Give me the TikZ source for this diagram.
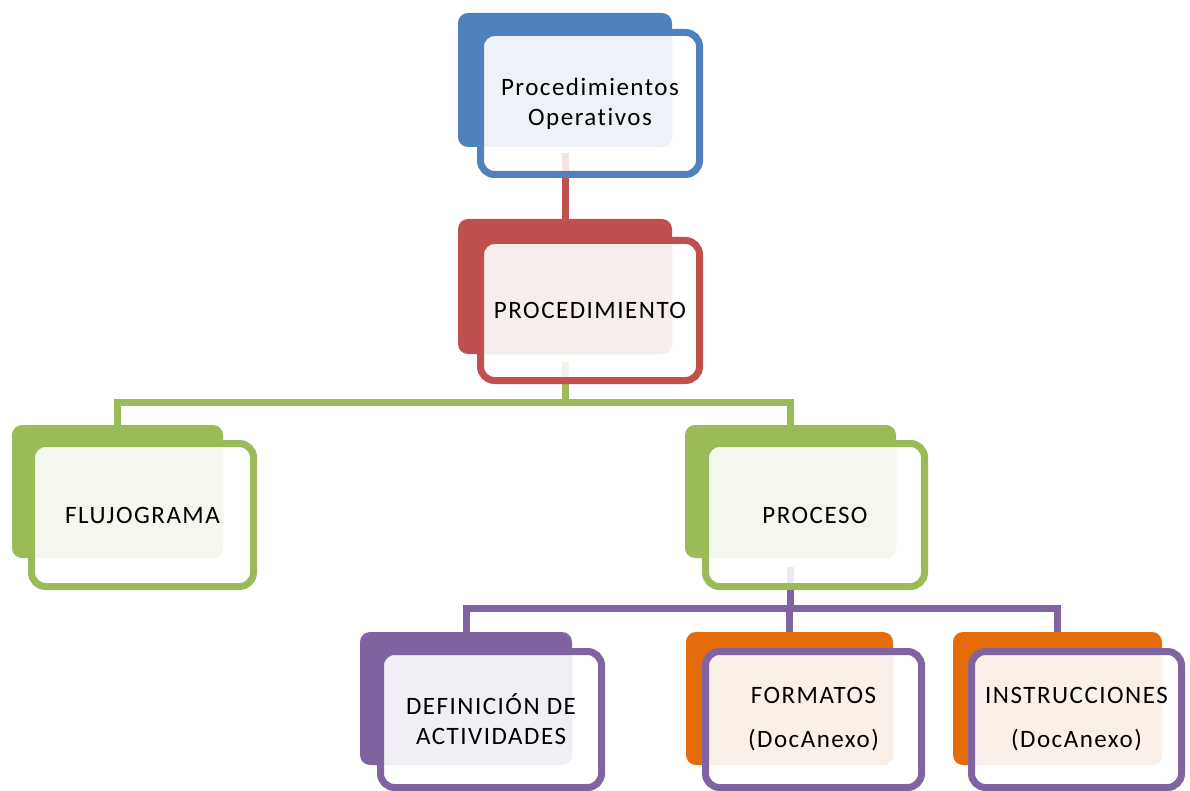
\documentclass[tikz,border=0pt]{standalone}
\usepackage{fontspec}
\setmainfont{Carlito}[LetterSpace=6,Ligatures=NoCommon]
\pgfdeclarelayer{connl}
\pgfdeclarelayer{backl}
\pgfdeclarelayer{tintl}
\pgfsetlayers{connl,backl,tintl,main}
\definecolor{blueD}{HTML}{4F81BD}\definecolor{blueL}{HTML}{EEF2F8}
\definecolor{redD}{HTML}{C0504D}\definecolor{redL}{HTML}{F6EDED}
\definecolor{greenD}{HTML}{9BBB59}\definecolor{greenL}{HTML}{F4F7EE}
\definecolor{purpleD}{HTML}{8064A2}\definecolor{purpleL}{HTML}{F1EEF5}
\definecolor{orangeD}{HTML}{E46C0A}\definecolor{orangeL}{HTML}{FBF0E7}
\tikzset{
  backbox/.style={rectangle, rounded corners=10pt, inner sep=0pt, outer sep=0pt, draw=none},
  frontbox/.style={rectangle, rounded corners=14pt, line width=7pt, inner sep=0pt, outer sep=0pt,
    align=center, font=\fontsize{25}{30}\selectfont, text=black},
  connline/.style={line width=7pt},
}
% #1 name, #2 back centre, #3 back size, #4 front centre, #5 front size, #6 colour prefix, #7 border colour, #8 text
\newcommand\mybox[8]{%
  \begin{pgfonlayer}{backl}
    \node[backbox, fill=#6D, #3] (b#1) at #2 {};
  \end{pgfonlayer}
  \node[frontbox, draw=#7, #5] (f#1) at #4 {#8};
  \begin{pgfonlayer}{tintl}
    \fill[white, opacity=.85, rounded corners=14pt] (f#1.south west) rectangle (f#1.north east);
    \begin{scope}
      \clip[rounded corners=10pt] (b#1.south west) rectangle (b#1.north east);
      \fill[#6L, rounded corners=14pt] (f#1.south west) rectangle (f#1.north east);
    \end{scope}
  \end{pgfonlayer}
}
\begin{document}
\begin{tikzpicture}[x=1pt,y=-1pt]
\begin{pgfonlayer}{connl}
  \fill[white] (0,0) rectangle (1190,791);
\end{pgfonlayer}
\useasboundingbox (0,0) rectangle (1190,791);
\mybox{1}{(565,80)}{minimum width=214pt,minimum height=134pt}{(590,103.5)}{minimum width=219pt,minimum height=142pt}{blue}{blueD}{Procedimientos\\Operativos}
\mybox{2}{(565,286.5)}{minimum width=214pt,minimum height=135pt}{(590,310.5)}{minimum width=219pt,minimum height=140pt}{red}{redD}{PROCEDIMIENTO}
\mybox{3}{(117.5,491.5)}{minimum width=211pt,minimum height=133pt}{(142.5,515)}{minimum width=222pt,minimum height=143pt}{green}{greenD}{FLUJOGRAMA}
\mybox{4}{(790.5,491.5)}{minimum width=211pt,minimum height=133pt}{(815,515)}{minimum width=219pt,minimum height=143pt}{green}{greenD}{PROCESO}
\mybox{5}{(466,698.5)}{minimum width=212pt,minimum height=133pt}{(491,719.5)}{minimum width=221pt,minimum height=136pt}{purple}{purpleD}{DEFINICIÓN DE\\ACTIVIDADES}
\mybox{6}{(789.5,698.5)}{minimum width=207pt,minimum height=133pt}{(813.5,719.5)}{minimum width=216pt,minimum height=136pt}{orange}{purpleD}{FORMATOS\\[14pt](DocAnexo)}
\mybox{7}{(1057.5,698.5)}{minimum width=209pt,minimum height=133pt}{(1076.5,719.5)}{minimum width=210pt,minimum height=136pt}{orange}{purpleD}{INSTRUCCIONES\\[14pt](DocAnexo)}
\begin{pgfonlayer}{connl}
  \coordinate (c1) at (565,153);
  \coordinate (c2) at (565,362);
  \coordinate (c3) at (790,567);
  \draw[connline, redD] (c1) -- (b2.north);
  \draw[connline, greenD] (c2) -- ++(0,40) -| (b3.north);
  \draw[connline, greenD] (c2) -- ++(0,40) -| (b4.north);
  \draw[connline, purpleD] (c3) -- ++(0,41) -| (b5.north);
  \draw[connline, purpleD] (c3) -- ++(0,41) -| (b6.north);
  \draw[connline, purpleD] (c3) -- ++(0,41) -| (b7.north);
\end{pgfonlayer}
\end{tikzpicture}
\end{document}
